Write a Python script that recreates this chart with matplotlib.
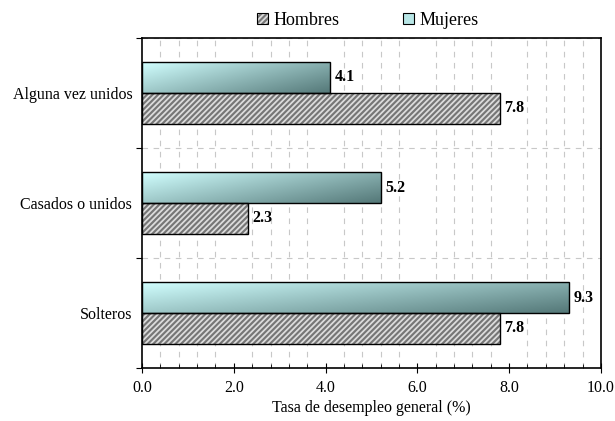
# ==========================================================
# TASA DE DESEMPLEO POR ESTADO CIVIL Y SEXO
# ==========================================================

import numpy as np
import matplotlib
matplotlib.use("Agg")
import matplotlib.pyplot as plt
from matplotlib.patches import Patch, Rectangle

# ==========================================================
# DATOS
# ==========================================================

categorias = ["Solteros", "Casados o unidos", "Alguna vez unidos"]
hombres = [7.8, 2.3, 7.8]
mujeres = [9.3, 5.2, 4.1]

ticks_x = [0, 2, 4, 6, 8, 10]

# ==========================================================
# CONFIGURACIONES
# ==========================================================

plt.rcParams["font.family"] = "Liberation Serif"
plt.rcParams["font.size"] = 11.5
plt.rcParams["hatch.color"] = "#dcdcdc"
plt.rcParams["hatch.linewidth"] = 1.3

GRIS = "#767676"
CIAN_CLARO = np.array([0.82, 1.00, 1.00])
CIAN_OSCURO = np.array([0.33, 0.47, 0.47])

ALTO = 0.28


def barra_degradado(ax, x0, y0, ancho, alto):
    # degradado claro (arriba-izquierda) a oscuro (abajo-derecha)
    nx, ny = 200, 40
    fx = np.linspace(0, 1, nx)[None, :]
    fy = np.linspace(0, 1, ny)[:, None]
    t = 0.6 * fx + 0.4 * (1 - fy)
    img = CIAN_CLARO[None, None, :] * (1 - t[..., None]) + CIAN_OSCURO[None, None, :] * t[..., None]
    ax.imshow(img, extent=(x0, x0 + ancho, y0, y0 + alto), origin="lower",
              aspect="auto", zorder=3, interpolation="bilinear")
    ax.add_patch(Rectangle((x0, y0), ancho, alto, fill=False,
                           edgecolor="black", linewidth=1.0, zorder=4))


def main():

    fig = plt.figure(figsize=(6.15, 4.21), dpi=100)
    ax = fig.add_axes([0.231, 0.126, 0.746, 0.784])

    y = np.arange(len(categorias))

    # Hombres: gris con rayado
    ax.barh(y - ALTO / 2, hombres, height=ALTO, color=GRIS, hatch="//////",
            linewidth=0, zorder=3)
    ax.barh(y - ALTO / 2, hombres, height=ALTO, fill=False,
            edgecolor="black", linewidth=1.0, zorder=4)

    # Mujeres: degradado cian
    for yi, v in zip(y, mujeres):
        barra_degradado(ax, 0, yi, v, ALTO)

    # etiquetas de valor
    for yi, v in zip(y, hombres):
        ax.text(v + 0.1, yi - ALTO / 2, f"{v:.1f}", va="center", ha="left",
                fontweight="bold", zorder=5)
    for yi, v in zip(y, mujeres):
        ax.text(v + 0.1, yi + ALTO / 2, f"{v:.1f}", va="center", ha="left",
                fontweight="bold", zorder=5)

    # ejes
    ax.set_xlim(0, 10)
    ax.set_ylim(-0.5, len(categorias) - 0.5)

    ax.set_xticks(ticks_x)
    ax.set_xticklabels([f"{t:.1f}" for t in ticks_x])
    ax.set_xticks(np.arange(0, 10.01, 0.4), minor=True)
    ax.tick_params(axis="x", which="major", direction="inout", length=7, pad=5)
    ax.tick_params(axis="x", which="minor", direction="in", length=3)

    limites = np.arange(-0.5, len(categorias), 1.0)
    ax.set_yticks(limites)
    ax.set_yticklabels([""] * len(limites))
    ax.set_yticks(y, minor=True)
    ax.set_yticklabels(categorias, minor=True)
    ax.tick_params(axis="y", which="major", direction="out", length=4)
    ax.tick_params(axis="y", which="minor", length=0, pad=7)

    # grilla punteada
    ax.set_axisbelow(True)
    ax.grid(axis="x", which="minor", color="#c8c8c8", linestyle=(0, (5, 5)), linewidth=0.8)
    ax.grid(axis="y", which="major", color="#c8c8c8", linestyle=(0, (5, 5)), linewidth=0.8)

    for s in ax.spines.values():
        s.set_linewidth(1.2)

    ax.set_xlabel("Tasa de desempleo general (%)", labelpad=3)

    # leyenda
    h_hom = (Patch(facecolor=GRIS, hatch="//////", linewidth=0),
             Patch(fill=False, edgecolor="black", linewidth=0.8))
    h_muj = Patch(facecolor="#b8e6e6", edgecolor="black", linewidth=0.8)
    fig.legend([h_hom, h_muj], ["Hombres", "Mujeres"], loc="center",
               bbox_to_anchor=(0.598, 0.952), ncol=2, frameon=False,
               handlelength=0.6, handleheight=0.6, handletextpad=0.3,
               columnspacing=3.5, fontsize=13)

    fig.savefig("out.png", dpi=100)


if __name__ == "__main__":

    main()
